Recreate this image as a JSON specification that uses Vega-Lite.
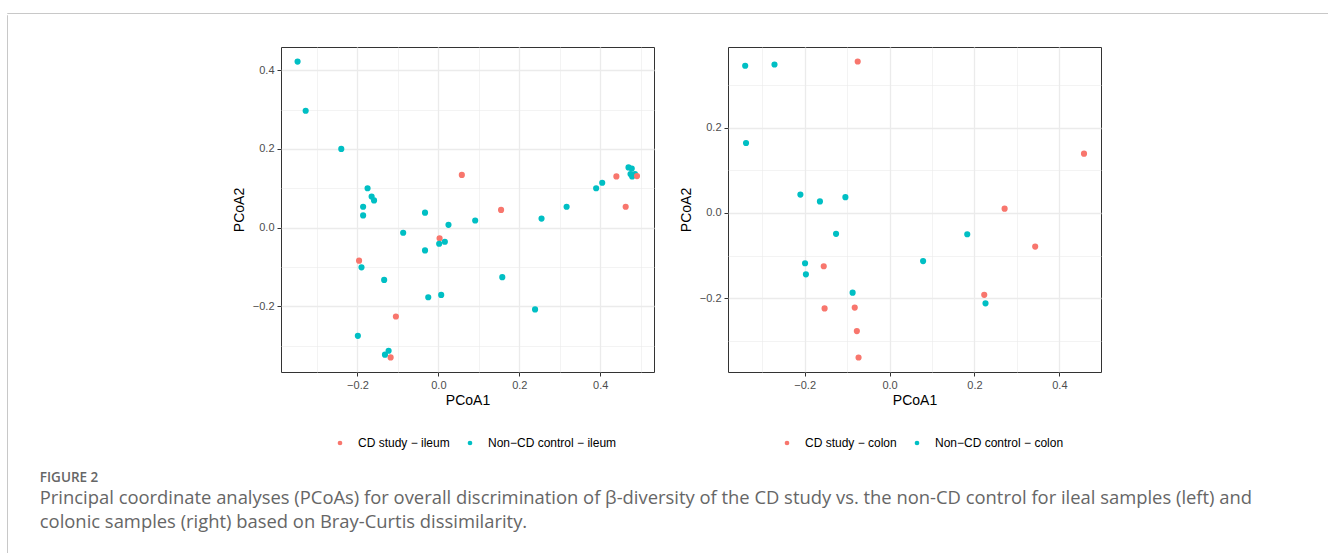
{
  "$schema": "https://vega.github.io/schema/vega-lite/v6.json",
  "padding": {"left": 6, "top": 12, "right": 0, "bottom": 0},
  "background": "white",
  "datasets": {
    "pts": [
      {"panel": "ileum", "group": "CD study − ileum", "x": 0.058, "y": 0.134},
      {"panel": "ileum", "group": "CD study − ileum", "x": 0.155, "y": 0.045},
      {"panel": "ileum", "group": "CD study − ileum", "x": 0.440, "y": 0.130},
      {"panel": "ileum", "group": "CD study − ileum", "x": 0.463, "y": 0.053},
      {"panel": "ileum", "group": "CD study − ileum", "x": 0.003, "y": -0.027},
      {"panel": "ileum", "group": "CD study − ileum", "x": -0.196, "y": -0.084},
      {"panel": "ileum", "group": "CD study − ileum", "x": -0.105, "y": -0.226},
      {"panel": "ileum", "group": "CD study − ileum", "x": -0.118, "y": -0.330},
      {"panel": "ileum", "group": "Non−CD control − ileum", "x": -0.348, "y": 0.422},
      {"panel": "ileum", "group": "Non−CD control − ileum", "x": -0.328, "y": 0.297},
      {"panel": "ileum", "group": "Non−CD control − ileum", "x": -0.240, "y": 0.200},
      {"panel": "ileum", "group": "Non−CD control − ileum", "x": -0.175, "y": 0.100},
      {"panel": "ileum", "group": "Non−CD control − ileum", "x": -0.165, "y": 0.079},
      {"panel": "ileum", "group": "Non−CD control − ileum", "x": -0.159, "y": 0.069},
      {"panel": "ileum", "group": "Non−CD control − ileum", "x": -0.186, "y": 0.053},
      {"panel": "ileum", "group": "Non−CD control − ileum", "x": -0.186, "y": 0.031},
      {"panel": "ileum", "group": "Non−CD control − ileum", "x": -0.033, "y": 0.038},
      {"panel": "ileum", "group": "Non−CD control − ileum", "x": 0.317, "y": 0.053},
      {"panel": "ileum", "group": "Non−CD control − ileum", "x": 0.390, "y": 0.100},
      {"panel": "ileum", "group": "Non−CD control − ileum", "x": 0.405, "y": 0.114},
      {"panel": "ileum", "group": "Non−CD control − ileum", "x": 0.470, "y": 0.153},
      {"panel": "ileum", "group": "Non−CD control − ileum", "x": 0.478, "y": 0.150},
      {"panel": "ileum", "group": "Non−CD control − ileum", "x": 0.475, "y": 0.136},
      {"panel": "ileum", "group": "Non−CD control − ileum", "x": 0.486, "y": 0.136},
      {"panel": "ileum", "group": "Non−CD control − ileum", "x": 0.479, "y": 0.130},
      {"panel": "ileum", "group": "Non−CD control − ileum", "x": 0.025, "y": 0.007},
      {"panel": "ileum", "group": "Non−CD control − ileum", "x": 0.091, "y": 0.018},
      {"panel": "ileum", "group": "Non−CD control − ileum", "x": 0.255, "y": 0.023},
      {"panel": "ileum", "group": "Non−CD control − ileum", "x": -0.087, "y": -0.013},
      {"panel": "ileum", "group": "Non−CD control − ileum", "x": 0.002, "y": -0.041},
      {"panel": "ileum", "group": "Non−CD control − ileum", "x": 0.016, "y": -0.036},
      {"panel": "ileum", "group": "Non−CD control − ileum", "x": -0.033, "y": -0.058},
      {"panel": "ileum", "group": "Non−CD control − ileum", "x": -0.190, "y": -0.101},
      {"panel": "ileum", "group": "Non−CD control − ileum", "x": -0.134, "y": -0.133},
      {"panel": "ileum", "group": "Non−CD control − ileum", "x": 0.158, "y": -0.126},
      {"panel": "ileum", "group": "Non−CD control − ileum", "x": -0.025, "y": -0.177},
      {"panel": "ileum", "group": "Non−CD control − ileum", "x": 0.007, "y": -0.171},
      {"panel": "ileum", "group": "Non−CD control − ileum", "x": 0.239, "y": -0.208},
      {"panel": "ileum", "group": "Non−CD control − ileum", "x": -0.199, "y": -0.275},
      {"panel": "ileum", "group": "Non−CD control − ileum", "x": -0.123, "y": -0.313},
      {"panel": "ileum", "group": "Non−CD control − ileum", "x": -0.132, "y": -0.323},
      {"panel": "ileum", "group": "CD study − ileum", "x": 0.491, "y": 0.131},
      {"panel": "colon", "group": "CD study − colon", "x": -0.075, "y": 0.355},
      {"panel": "colon", "group": "CD study − colon", "x": 0.458, "y": 0.139},
      {"panel": "colon", "group": "CD study − colon", "x": 0.271, "y": 0.010},
      {"panel": "colon", "group": "CD study − colon", "x": 0.343, "y": -0.079},
      {"panel": "colon", "group": "CD study − colon", "x": -0.155, "y": -0.125},
      {"panel": "colon", "group": "CD study − colon", "x": 0.223, "y": -0.192},
      {"panel": "colon", "group": "CD study − colon", "x": -0.153, "y": -0.224},
      {"panel": "colon", "group": "CD study − colon", "x": -0.082, "y": -0.222},
      {"panel": "colon", "group": "CD study − colon", "x": -0.077, "y": -0.277},
      {"panel": "colon", "group": "CD study − colon", "x": -0.073, "y": -0.339},
      {"panel": "colon", "group": "Non−CD control − colon", "x": -0.340, "y": 0.345},
      {"panel": "colon", "group": "Non−CD control − colon", "x": -0.271, "y": 0.348},
      {"panel": "colon", "group": "Non−CD control − colon", "x": -0.338, "y": 0.164},
      {"panel": "colon", "group": "Non−CD control − colon", "x": -0.210, "y": 0.043},
      {"panel": "colon", "group": "Non−CD control − colon", "x": -0.164, "y": 0.027},
      {"panel": "colon", "group": "Non−CD control − colon", "x": -0.104, "y": 0.037},
      {"panel": "colon", "group": "Non−CD control − colon", "x": -0.126, "y": -0.049},
      {"panel": "colon", "group": "Non−CD control − colon", "x": 0.183, "y": -0.050},
      {"panel": "colon", "group": "Non−CD control − colon", "x": 0.079, "y": -0.113},
      {"panel": "colon", "group": "Non−CD control − colon", "x": -0.199, "y": -0.118},
      {"panel": "colon", "group": "Non−CD control − colon", "x": -0.197, "y": -0.144},
      {"panel": "colon", "group": "Non−CD control − colon", "x": -0.087, "y": -0.187},
      {"panel": "colon", "group": "Non−CD control − colon", "x": 0.226, "y": -0.212}
    ]
  },
  "config": {
    "view": {"stroke": "#333333", "strokeWidth": 1},
    "axis": {
      "domain": false,
      "grid": true,
      "gridColor": "#EBEBEB",
      "tickColor": "#333333",
      "tickSize": 4,
      "tickWidth": 1,
      "labelFont": "Liberation Sans",
      "labelFontSize": 11,
      "labelColor": "#4D4D4D",
      "labelPadding": 3,
      "labelOverlap": false,
      "labelFlush": false,
      "titleFont": "Liberation Sans",
      "titleFontSize": 14,
      "titleFontWeight": "normal",
      "titleColor": "#000000",
      "titlePadding": 3
    },
    "axisY": {"titlePadding": 6},
    "legend": {
      "orient": "none",
      "direction": "horizontal",
      "title": null,
      "labelFont": "Liberation Sans",
      "labelFontSize": 12,
      "labelColor": "#000000",
      "symbolType": "circle",
      "symbolSize": 22,
      "symbolStrokeWidth": 0,
      "labelOffset": 12,
      "columnPadding": 14,
      "padding": 0
    }
  },
  "spacing": 0,
  "vconcat": [
    {
      "width": 1321, "height": 0.01,
      "data": {"values": []},
      "mark": "point",
      "view": {"stroke": "#C8C8C8", "strokeWidth": 1}
    },
    {
      "spacing": 31,
      "hconcat": [
        {
          "width": 0.01, "height": 541,
          "data": {"values": []},
          "mark": "point",
          "view": {"stroke": "#C8C8C8", "strokeWidth": 1}
        },
        {
          "spacing": 30,
          "vconcat": [
            {
              "width": 0.01, "height": 0.01,
              "data": {"values": []},
              "mark": "point",
              "view": {"stroke": null}
            },
            {
              "spacing": 23,
              "resolve": {"scale": {"color": "independent"}, "legend": {"color": "independent"}},
              "title": {
                "text": "FIGURE 2",
                "subtitle": [
                  "Principal coordinate analyses (PCoAs) for overall discrimination of β-diversity of the CD study vs. the non-CD control for ileal samples (left) and",
                  "colonic samples (right) based on Bray-Curtis dissimilarity."
                ],
                "orient": "bottom",
                "anchor": "start",
                "dx": -192,
                "offset": 21,
                "font": "Open Sans",
                "fontSize": 13.5,
                "fontWeight": 600,
                "color": "#666666",
                "subtitleFont": "Open Sans",
                "subtitleFontSize": 18.4,
                "subtitleColor": "#666666",
                "subtitleLineHeight": 24,
                "subtitlePadding": 5
              },
              "hconcat": [
                {
                  "width": 373, "height": 325,
                  "data": {"name": "pts"},
                  "transform": [{"filter": "datum.panel === 'ileum'"}],
                  "mark": {"type": "point", "filled": true, "size": 38, "opacity": 1},
                  "encoding": {
                    "x": {
                      "field": "x", "type": "quantitative",
                      "scale": {"domain": [-0.389, 0.533], "nice": false, "zero": false},
                      "axis": {
                        "title": "PCoA1",
                        "values": [-0.3, -0.2, -0.1, 0, 0.1, 0.2, 0.3, 0.4, 0.5],
                        "format": ".1f",
                        "labelExpr": "abs(round(datum.value*10))%2==1 ? '' : datum.label",
                        "tickOpacity": {"condition": {"test": "abs(round(datum.value*10))%2==1", "value": 0}, "value": 1},
                        "gridWidth": {"condition": {"test": "abs(round(datum.value*10))%2==1", "value": 0.6}, "value": 1.3}
                      }
                    },
                    "y": {
                      "field": "y", "type": "quantitative",
                      "scale": {"domain": [-0.367, 0.459], "nice": false, "zero": false},
                      "axis": {
                        "title": "PCoA2",
                        "values": [-0.3, -0.2, -0.1, 0, 0.1, 0.2, 0.3, 0.4],
                        "format": ".1f",
                        "labelExpr": "abs(round(datum.value*10))%2==1 ? '' : datum.label",
                        "tickOpacity": {"condition": {"test": "abs(round(datum.value*10))%2==1", "value": 0}, "value": 1},
                        "gridWidth": {"condition": {"test": "abs(round(datum.value*10))%2==1", "value": 0.6}, "value": 1.3}
                      }
                    },
                    "color": {
                      "field": "group", "type": "nominal",
                      "scale": {"domain": ["CD study − ileum", "Non−CD control − ileum"], "range": ["#F8766D", "#00BFC4"]},
                      "legend": {"legendX": 53, "legendY": 390}
                    }
                  }
                },
                {
                  "width": 373, "height": 325,
                  "data": {"name": "pts"},
                  "transform": [{"filter": "datum.panel === 'colon'"}],
                  "mark": {"type": "point", "filled": true, "size": 38, "opacity": 1},
                  "encoding": {
                    "x": {
                      "field": "x", "type": "quantitative",
                      "scale": {"domain": [-0.3805, 0.498], "nice": false, "zero": false},
                      "axis": {
                        "title": "PCoA1",
                        "values": [-0.3, -0.2, -0.1, 0, 0.1, 0.2, 0.3, 0.4],
                        "format": ".1f",
                        "labelExpr": "abs(round(datum.value*10))%2==1 ? '' : datum.label",
                        "tickOpacity": {"condition": {"test": "abs(round(datum.value*10))%2==1", "value": 0}, "value": 1},
                        "gridWidth": {"condition": {"test": "abs(round(datum.value*10))%2==1", "value": 0.6}, "value": 1.3}
                      }
                    },
                    "y": {
                      "field": "y", "type": "quantitative",
                      "scale": {"domain": [-0.373, 0.389], "nice": false, "zero": false},
                      "axis": {
                        "title": "PCoA2",
                        "values": [-0.3, -0.2, -0.1, 0, 0.1, 0.2, 0.3],
                        "format": ".1f",
                        "labelExpr": "abs(round(datum.value*10))%2==1 ? '' : datum.label",
                        "tickOpacity": {"condition": {"test": "abs(round(datum.value*10))%2==1", "value": 0}, "value": 1},
                        "gridWidth": {"condition": {"test": "abs(round(datum.value*10))%2==1", "value": 0.6}, "value": 1.3}
                      }
                    },
                    "color": {
                      "field": "group", "type": "nominal",
                      "scale": {"domain": ["CD study − colon", "Non−CD control − colon"], "range": ["#F8766D", "#00BFC4"]},
                      "legend": {"legendX": 53, "legendY": 390}
                    }
                  }
                }
              ]
            }
          ]
        }
      ]
    }
  ]
}
